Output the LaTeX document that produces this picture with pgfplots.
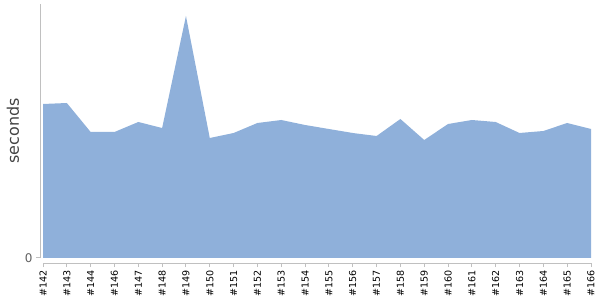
\documentclass[border=0pt]{standalone}
\usepackage{pgfplots}
\pgfplotsset{compat=1.18}
\usepackage{fontspec}
\setmainfont{DejaVu Sans}
\definecolor{areafill}{RGB}{143,176,218}
\definecolor{axgray}{RGB}{192,192,192}
\definecolor{lblgray}{RGB}{96,96,96}
\definecolor{titlegray}{RGB}{68,68,68}
\begin{document}
\begin{tikzpicture}
\useasboundingbox (0bp,0bp) rectangle (600bp,300bp);
\begin{axis}[
  at={(40bp,37bp)}, anchor=south west,
  scale only axis, width=551bp, height=259bp,
  xmin=-0.126, xmax=23, ymin=-5, ymax=254,
  axis line style={draw=none},
  /pgf/number format/assume math mode=true,
  xtick={0,...,23},
  xticklabels={\#142,\#143,\#144,\#146,\#147,\#148,\#149,\#150,\#151,\#152,\#153,\#154,\#155,\#156,\#157,\#158,\#159,\#160,\#161,\#162,\#163,\#164,\#165,\#166},
  x tick label style={rotate=90, anchor=east, font=\fontsize{9.6}{10}\selectfont, color=black, xshift=0bp},
  ytick={0}, yticklabels={0},
  y tick label style={font=\fontsize{12}{14}\selectfont, color=lblgray},
  tick align=outside, major tick length=4bp,
  tick style={axgray, line width=1bp},
  xtick pos=bottom, ytick pos=left,
  ylabel={seconds},
  ylabel style={at={(axis description cs:-0.049,0.51)}, anchor=center, rotate=0, font=\fontsize{16}{18}\selectfont, color=titlegray},
  clip=false,
]
\addplot[fill=areafill, draw=none] coordinates {
(0,154) (1,155) (2,126) (3,126) (4,136) (5,130) (6,242) (7,120)
(8,125) (9,135) (10,138) (11,133) (12,129) (13,125) (14,122) (15,139)
(16,118) (17,134) (18,138) (19,136) (20,125) (21,127) (22,135) (23,129)
} \closedcycle;
\draw[axgray, line width=1bp] (axis cs:-0.126,0) -- (axis cs:-0.126,254);
\draw[axgray, line width=1bp] (axis cs:0,-5) -- (axis cs:23,-5);
\end{axis}
\end{tikzpicture}
\end{document}
